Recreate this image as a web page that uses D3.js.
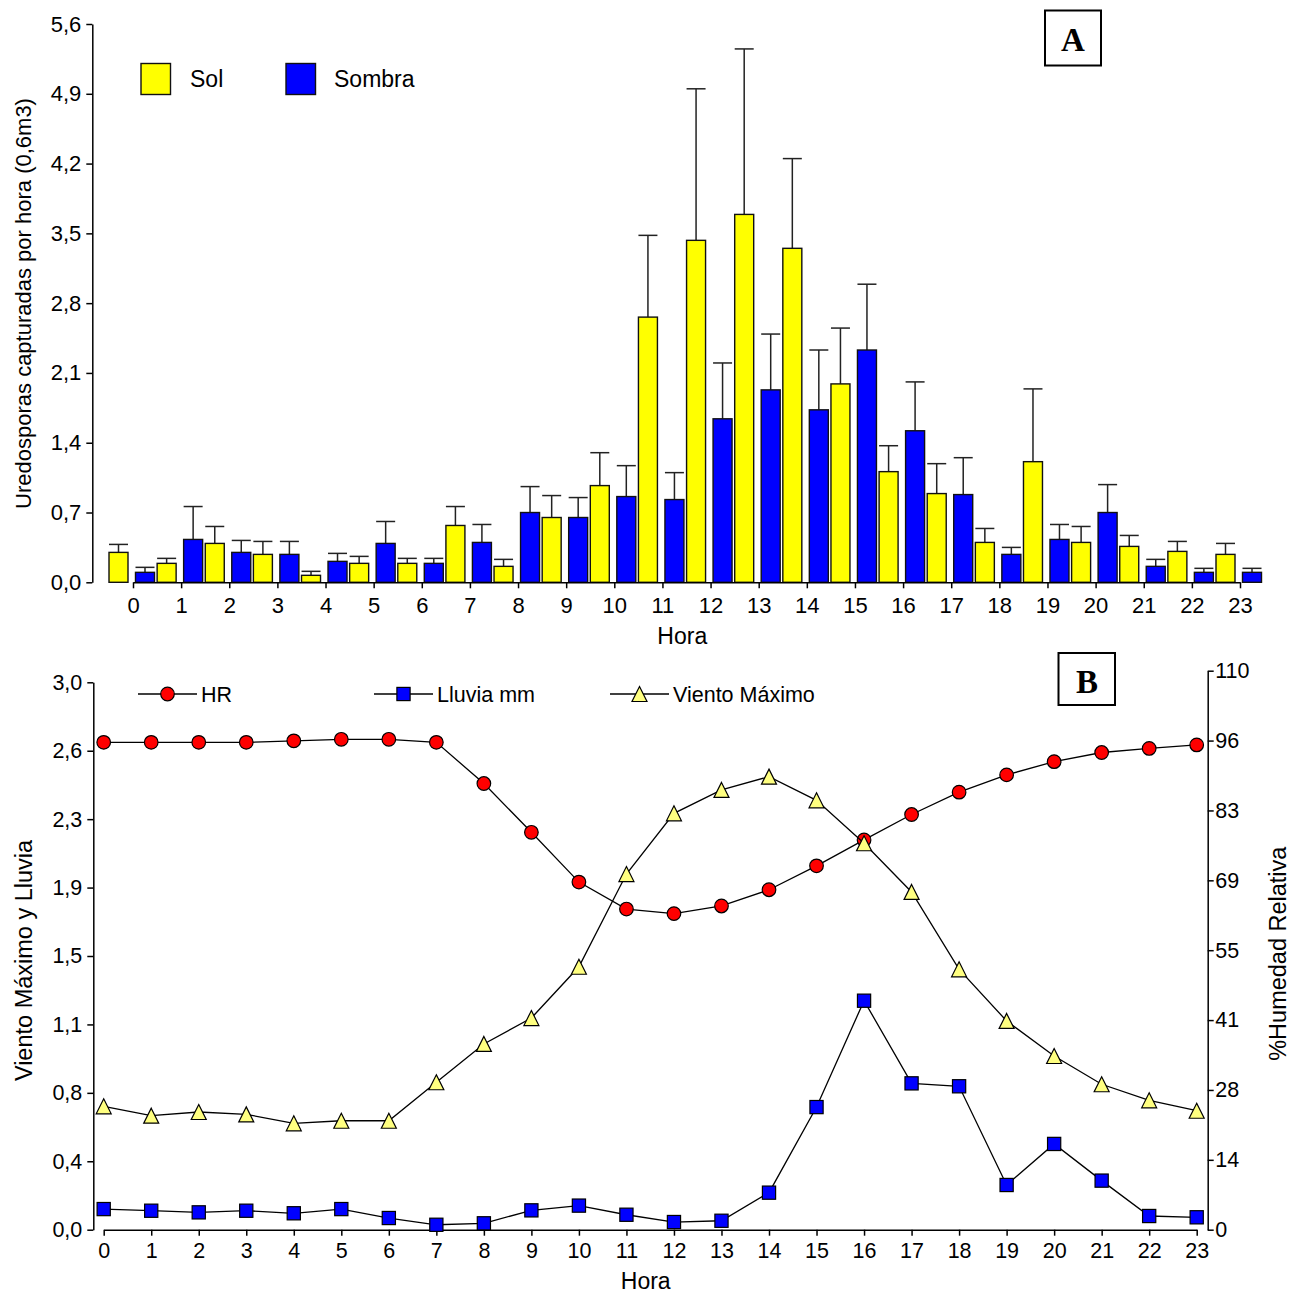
<!DOCTYPE html>
<html><head><meta charset="utf-8">
<script src="https://cdn.jsdelivr.net/npm/d3@7"></script>
<style>body{margin:0;background:#fff} svg{display:block} text{fill:#000}</style>
</head><body><svg id="c" width="1292" height="1294" font-family='"Liberation Sans", Arial, sans-serif'></svg>
<script>
// ---------- DATA ----------
const hours = [0,1,2,3,4,5,6,7,8,9,10,11,12,13,14,15,16,17,18,19,20,21,22,23];
const hourLabels = ["0","1","2","3","4","5","6","7","8","9","10","11","12","13","14","15","16","17","18","19","20","21","22","23"];

// Panel A: uredospores captured per hour (mean and upper error)
const seriesA = ["Sol","Sombra"];
const solMean    = [0.30,0.19,0.39,0.28,0.07,0.19,0.19,0.57,0.16,0.65,0.97,2.66,3.43,3.69,3.35,1.99,1.11,0.89,0.40,1.21,0.40,0.36,0.31,0.28];
const solErr     = [0.08,0.05,0.17,0.13,0.04,0.07,0.05,0.19,0.07,0.22,0.33,0.82,1.52,1.66,0.90,0.56,0.26,0.30,0.14,0.73,0.16,0.11,0.10,0.11];
const sombraMean = [0.10,0.43,0.30,0.28,0.21,0.39,0.19,0.40,0.70,0.65,0.86,0.83,1.64,1.93,1.73,2.33,1.52,0.88,0.28,0.43,0.70,0.16,0.10,0.10];
const sombraErr  = [0.05,0.33,0.12,0.13,0.08,0.22,0.05,0.18,0.26,0.20,0.31,0.27,0.56,0.56,0.60,0.66,0.49,0.37,0.07,0.15,0.28,0.07,0.04,0.04];
const yTicksA = [0,0.7,1.4,2.1,2.8,3.5,4.2,4.9,5.6];
const yLabelsA = ["0,0","0,7","1,4","2,1","2,8","3,5","4,2","4,9","5,6"];

// Panel B
const hr      = [95.9,95.9,95.9,95.9,96.2,96.5,96.5,95.9,87.8,78.2,68.4,63.1,62.2,63.7,66.9,71.6,76.7,81.7,86.1,89.5,92.1,93.9,94.7,95.4];
const lluvia  = [0.113,0.104,0.095,0.104,0.090,0.113,0.064,0.027,0.035,0.106,0.132,0.082,0.042,0.049,0.203,0.672,1.255,0.802,0.786,0.245,0.470,0.269,0.075,0.068];
const viento  = [0.676,0.625,0.645,0.632,0.583,0.597,0.597,0.808,1.018,1.160,1.441,1.949,2.282,2.410,2.483,2.353,2.118,1.851,1.427,1.144,0.952,0.797,0.709,0.652];
const yTicksBL = [0,0.375,0.75,1.125,1.5,1.875,2.25,2.625,3.0];
const yLabelsBL = ["0,0","0,4","0,8","1,1","1,5","1,9","2,3","2,6","3,0"];
const yTicksBR = [0,13.75,27.5,41.25,55,68.75,82.5,96.25,110];
const yLabelsBR = ["0","14","28","41","55","69","83","96","110"];

// ---------- DRAW ----------
const svg = d3.select("#c");
const FONT = '"Liberation Sans", Arial, sans-serif';
const SERIF = '"Liberation Serif", "Times New Roman", serif';

function styleAxis(g, fs){
  g.attr("font-family", FONT).attr("font-size", fs);
  g.select(".domain").attr("stroke","#000").attr("stroke-width",1.5);
  g.selectAll(".tick line").attr("stroke","#000").attr("stroke-width",1.5);
  g.selectAll(".tick text").attr("fill","#000");
}

// ===== Panel A =====
const xA = d3.scaleLinear().domain([0,23]).range([133,1240]);
const yA = d3.scaleLinear().domain([0,5.6]).range([582.3,24]);
const sub = d3.scaleBand().domain(seriesA).range([-24,21.5]).paddingInner(0.283);
const colA = {Sol:"#ffff00", Sombra:"#0000ff"};
const dataA = [];
hours.forEach((h,i)=>{
  dataA.push({h, s:"Sol", v:solMean[i], e:solErr[i]});
  dataA.push({h, s:"Sombra", v:sombraMean[i], e:sombraErr[i]});
});
const bw = sub.bandwidth();
const gA = svg.append("g");
gA.selectAll("line.err").data(dataA).join("line")
  .attr("x1", d=>xA(d.h)+sub(d.s)+bw/2).attr("x2", d=>xA(d.h)+sub(d.s)+bw/2)
  .attr("y1", d=>yA(d.v)).attr("y2", d=>yA(d.v+d.e))
  .attr("stroke","#222").attr("stroke-width",1.5);
gA.selectAll("line.cap").data(dataA).join("line")
  .attr("x1", d=>xA(d.h)+sub(d.s)).attr("x2", d=>xA(d.h)+sub(d.s)+bw)
  .attr("y1", d=>yA(d.v+d.e)).attr("y2", d=>yA(d.v+d.e))
  .attr("stroke","#222").attr("stroke-width",1.5);
gA.selectAll("rect.bar").data(dataA).join("rect")
  .attr("x", d=>xA(d.h)+sub(d.s)).attr("width", bw)
  .attr("y", d=>yA(d.v)).attr("height", d=>yA(0)-yA(d.v))
  .attr("fill", d=>colA[d.s]).attr("stroke","#111").attr("stroke-width",1.4);

const axAy = svg.append("g").attr("transform","translate(92.3,0)")
  .call(d3.axisLeft(yA).tickValues(yTicksA).tickFormat((d,i)=>yLabelsA[i]).tickSize(6).tickSizeOuter(0).tickPadding(5));
styleAxis(axAy, 22);
const axAx = svg.append("g").attr("transform","translate(0,582.3)")
  .call(d3.axisBottom(xA).tickValues(hours).tickFormat((d,i)=>hourLabels[i]).tickSize(6).tickSizeOuter(0).tickPadding(9.5));
styleAxis(axAx, 22);

svg.append("text").attr("x",682.3).attr("y",635.7+0.358*23).attr("text-anchor","middle")
  .attr("font-size",23).text("Hora");
svg.append("text").attr("transform","translate(23,303.5) rotate(-90)").attr("y",0.358*22)
  .attr("text-anchor","middle").attr("font-size",22).text("Uredosporas capturadas por hora (0,6m3)");

// legend A
const legA = [{s:"Sol", x:141, tx:190},{s:"Sombra", x:286, tx:334}];
legA.forEach(l=>{
  svg.append("rect").attr("x",l.x).attr("y",63.5).attr("width",29.5).attr("height",31)
    .attr("fill",colA[l.s]).attr("stroke","#111").attr("stroke-width",1.4);
  svg.append("text").attr("x",l.tx).attr("y",79+0.358*23).attr("font-size",23).text(l.s);
});
// box A
svg.append("rect").attr("x",1045).attr("y",10.5).attr("width",56).attr("height",55)
  .attr("fill","#fff").attr("stroke","#000").attr("stroke-width",2);
svg.append("text").attr("x",1073).attr("y",40+11).attr("text-anchor","middle")
  .style("font-family",SERIF).style("font-weight","bold").style("font-size","33px").text("A");

// ===== Panel B =====
const xB = d3.scaleLinear().domain([0,23]).range([103.7,1196.7]);
const yBL = d3.scaleLinear().domain([0,3]).range([1229.7,682.3]);
const yBR = d3.scaleLinear().domain([0,110]).range([1229.7,670.7]);

const axBL = svg.append("g").attr("transform","translate(93.3,0)")
  .call(d3.axisLeft(yBL).tickValues(yTicksBL).tickFormat((d,i)=>yLabelsBL[i]).tickSize(6).tickSizeOuter(0).tickPadding(5));
styleAxis(axBL, 21.5);
const axBR = svg.append("g").attr("transform","translate(1207.7,0)")
  .call(d3.axisRight(yBR).tickValues(yTicksBR).tickFormat((d,i)=>yLabelsBR[i]).tickSize(6).tickSizeOuter(0).tickPadding(1.5));
styleAxis(axBR, 21.5);
const axBx = svg.append("g").attr("transform","translate(0,1229.7)")
  .call(d3.axisBottom(xB).tickValues(hours).tickFormat((d,i)=>hourLabels[i]).tickSize(6).tickSizeOuter(0).tickPadding(7.5));
styleAxis(axBx, 21.5);

svg.append("text").attr("x",645.7).attr("y",1280.7+0.358*23).attr("text-anchor","middle")
  .attr("font-size",23).text("Hora");
svg.append("text").attr("transform","translate(24,960.5) rotate(-90)").attr("y",0.358*23.5)
  .attr("text-anchor","middle").attr("font-size",23.5).text("Viento Máximo y Lluvia");
svg.append("text").attr("transform","translate(1278,953.7) rotate(-90)").attr("y",0.358*23.5)
  .attr("text-anchor","middle").attr("font-size",23.5).text("%Humedad Relativa");

const triPath = "M0,-7.5L7.5,7.5L-7.5,7.5Z";
function drawMarker(g, type, x, y){
  if(type==="circle") g.append("circle").attr("cx",x).attr("cy",y).attr("r",6.8)
      .attr("fill","#ff0000").attr("stroke","#000").attr("stroke-width",1.2);
  else if(type==="square") g.append("rect").attr("x",x-6.6).attr("y",y-6.6).attr("width",13.2).attr("height",13.2)
      .attr("fill","#0000ff").attr("stroke","#000").attr("stroke-width",1.2);
  else g.append("path").attr("d",triPath).attr("transform",`translate(${x},${y})`)
      .attr("fill","#ffff80").attr("stroke","#000").attr("stroke-width",1.2);
}
const seriesB = [
  {name:"HR", vals:hr, y:yBR, type:"circle"},
  {name:"Lluvia mm", vals:lluvia, y:yBL, type:"square"},
  {name:"Viento Máximo", vals:viento, y:yBL, type:"triangle"}
];
seriesB.forEach(s=>{
  const g = svg.append("g");
  const line = d3.line().x((d,i)=>xB(hours[i])).y(d=>s.y(d));
  g.append("path").attr("d", line(s.vals)).attr("fill","none").attr("stroke","#000").attr("stroke-width",1.3);
  s.vals.forEach((v,i)=>drawMarker(g, s.type, xB(hours[i]), s.y(v)));
});

// legend B
const legB = [{i:0, x1:138, x2:197, tx:201},{i:1, x1:374, x2:433, tx:437},{i:2, x1:610, x2:669, tx:673}];
legB.forEach(l=>{
  const s = seriesB[l.i];
  const g = svg.append("g");
  g.append("line").attr("x1",l.x1).attr("x2",l.x2).attr("y1",694).attr("y2",694).attr("stroke","#000").attr("stroke-width",1.3);
  drawMarker(g, s.type, (l.x1+l.x2)/2, 694);
  g.append("text").attr("x",l.tx).attr("y",694+0.358*21.5).attr("font-size",21.5).text(s.name);
});
// box B
svg.append("rect").attr("x",1058.5).attr("y",653).attr("width",56.5).attr("height",52)
  .attr("fill","#fff").attr("stroke","#000").attr("stroke-width",2);
svg.append("text").attr("x",1087).attr("y",682+11).attr("text-anchor","middle")
  .style("font-family",SERIF).style("font-weight","bold").style("font-size","33px").text("B");
</script></body></html>
